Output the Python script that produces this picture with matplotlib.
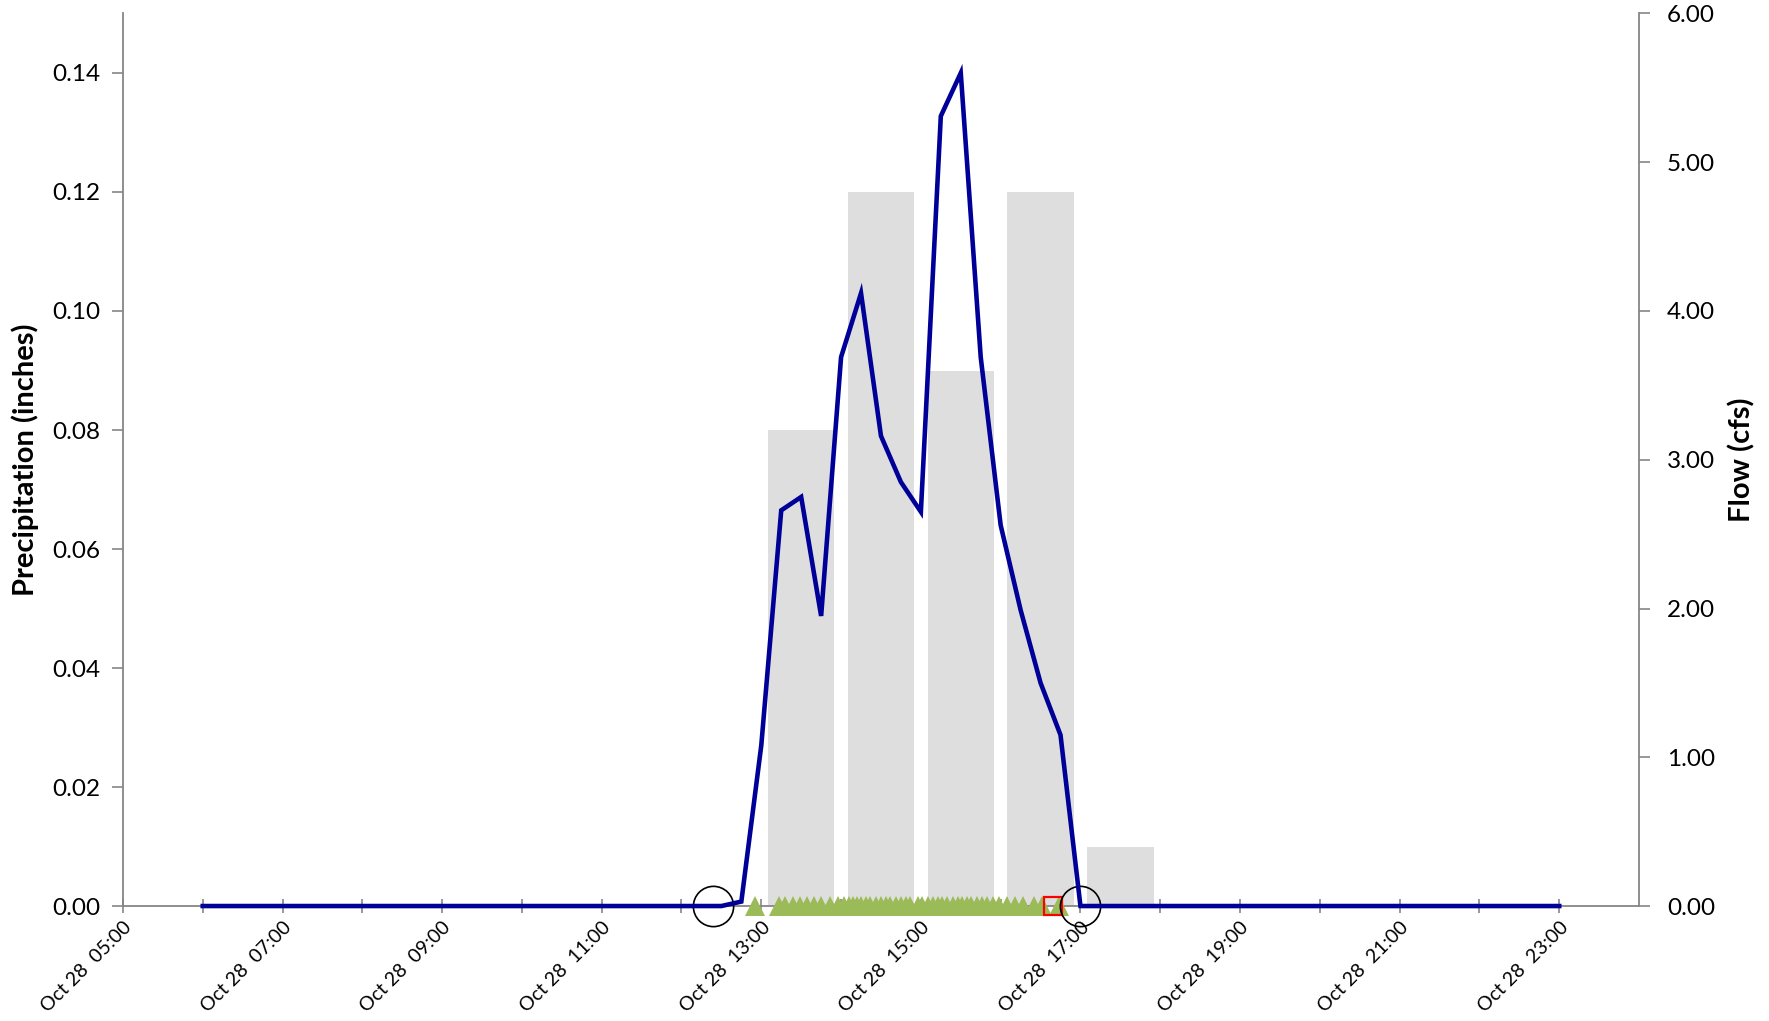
import matplotlib
matplotlib.use("Agg")
import matplotlib.pyplot as plt
import matplotlib.dates as mdates
from matplotlib.ticker import FormatStrFormatter
import pandas as pd

plt.rcParams['font.family'] = ['Lato', 'DejaVu Sans']

DAY = "2013-10-28"

# Hourly rainfall totals (inches), bar centred on the half hour
rain_times = ["13:30", "14:30", "15:30", "16:30", "17:30"]
rain_inches = [0.08, 0.12, 0.09, 0.12, 0.01]

# 15-minute flow record (cfs), 06:00 through 23:00
flow_start, flow_end = "06:00", "23:00"
flow_cfs = [
    0, 0, 0, 0, 0, 0, 0, 0, 0, 0, 0, 0, 0, 0,            # 06:00 - 09:15
    0, 0, 0, 0, 0, 0, 0, 0, 0, 0, 0, 0, 0,               # 09:30 - 12:30
    0.03, 1.08, 2.66, 2.75, 1.95, 3.69, 4.12, 3.16,      # 12:45 - 14:30
    2.85, 2.65, 5.31, 5.60, 3.69, 2.56, 1.99, 1.50, 1.15, # 14:45 - 16:45
    0, 0, 0, 0, 0, 0, 0, 0, 0, 0, 0, 0, 0,               # 17:00 - 20:00
    0, 0, 0, 0, 0, 0, 0, 0, 0, 0, 0, 0,                  # 20:15 - 23:00
]

# Composite sampler aliquot times
aliquot_times = [
    "12:55", "13:13", "13:18", "13:24", "13:29", "13:34", "13:40", "13:45",
    "13:52", "13:58", "14:02", "14:06", "14:09", "14:12", "14:15", "14:19",
    "14:22", "14:26", "14:30", "14:34", "14:37", "14:41", "14:45", "14:49",
    "14:52", "14:58", "15:01", "15:05", "15:09", "15:13", "15:16", "15:20",
    "15:24", "15:28", "15:31", "15:35", "15:38", "15:42", "15:46", "15:50",
    "15:54", "15:59", "16:05", "16:11", "16:17", "16:25", "16:31", "16:44",
]
# Grab sample time
grab_times = ["16:39"]
# Storm event start and end
event_times = ["12:24", "17:00"]

x_start, x_end = "05:00", "23:59:59"


def ts(t):
    return pd.Timestamp(f"{DAY} {t}")


flow_index = pd.date_range(ts(flow_start), ts(flow_end), freq="15min")

fig = plt.figure(figsize=(17.69, 10.21), dpi=100)
ax = fig.add_axes([0.0695, 0.1126, 0.857, 0.8742])
ax2 = ax.twinx()

grey = "#868686"

# Precipitation bars
bar_w = pd.Timedelta(minutes=50) / pd.Timedelta(days=1)
ax.bar([mdates.date2num(ts(t)) for t in rain_times], rain_inches,
       width=bar_w, color="#dedede", zorder=1)
ax.set_ylim(0, 0.15)
ax.set_yticks([0, 0.02, 0.04, 0.06, 0.08, 0.10, 0.12, 0.14])
ax.yaxis.set_major_formatter(FormatStrFormatter("%.2f"))
ax.set_ylabel("Precipitation (inches)", fontsize=21, fontweight="bold", labelpad=10)

# Markers along the zero line
zero = [0] * len(aliquot_times)
ax2.plot([ts(t) for t in aliquot_times], zero, linestyle="none", marker="^",
         markersize=14.5, color="#9bbb59", markeredgewidth=0, clip_on=False, zorder=3)
ax2.plot([ts(t) for t in grab_times], [0] * len(grab_times), linestyle="none",
         marker="s", markersize=12.5, markerfacecolor="none", markeredgecolor="#ff0000",
         markeredgewidth=1.6, clip_on=False, zorder=4)
ax2.plot([ts(t) for t in event_times], [0] * len(event_times), linestyle="none",
         marker="o", markersize=29, markerfacecolor="none", markeredgecolor="black",
         markeredgewidth=1.2, clip_on=False, zorder=4)

# Flow hydrograph
ax2.plot(flow_index, flow_cfs, color="#000099", linewidth=3.3,
         solid_joinstyle="miter", clip_on=False, zorder=5)
ax2.set_ylim(0, 6)
ax2.set_yticks(range(0, 7))
ax2.yaxis.set_major_formatter(FormatStrFormatter("%.2f"))
ax2.set_ylabel("Flow (cfs)", fontsize=21, fontweight="bold", labelpad=10)

# Time axis
ax.set_xlim(ts(x_start), ts(x_end))
ax.xaxis.set_major_locator(mdates.HourLocator(byhour=range(5, 24, 2)))
ax.xaxis.set_minor_locator(mdates.HourLocator())
ax.xaxis.set_major_formatter(mdates.DateFormatter("%b %d  %H:%M"))
for lbl in ax.get_xticklabels():
    lbl.set_rotation(45)
    lbl.set_ha("right")
    lbl.set_rotation_mode("anchor")
    lbl.set_fontsize(14)

for a in (ax, ax2):
    a.spines["top"].set_visible(False)
    for s in ("left", "right", "bottom"):
        a.spines[s].set_color(grey)
        a.spines[s].set_linewidth(1.3)
ax.spines["right"].set_visible(False)
ax2.spines["left"].set_visible(False)
ax2.spines["bottom"].set_visible(False)

ax.tick_params(axis="y", direction="out", length=8, width=1.2, color=grey,
               labelsize=17.5, pad=8)
ax2.tick_params(axis="y", direction="out", length=8, width=1.2, color=grey,
                labelsize=17.5, pad=12)
ax.tick_params(axis="x", which="both", direction="inout", length=10, width=1.2,
               color=grey, pad=4)

fig.savefig("out.png", dpi=100)
